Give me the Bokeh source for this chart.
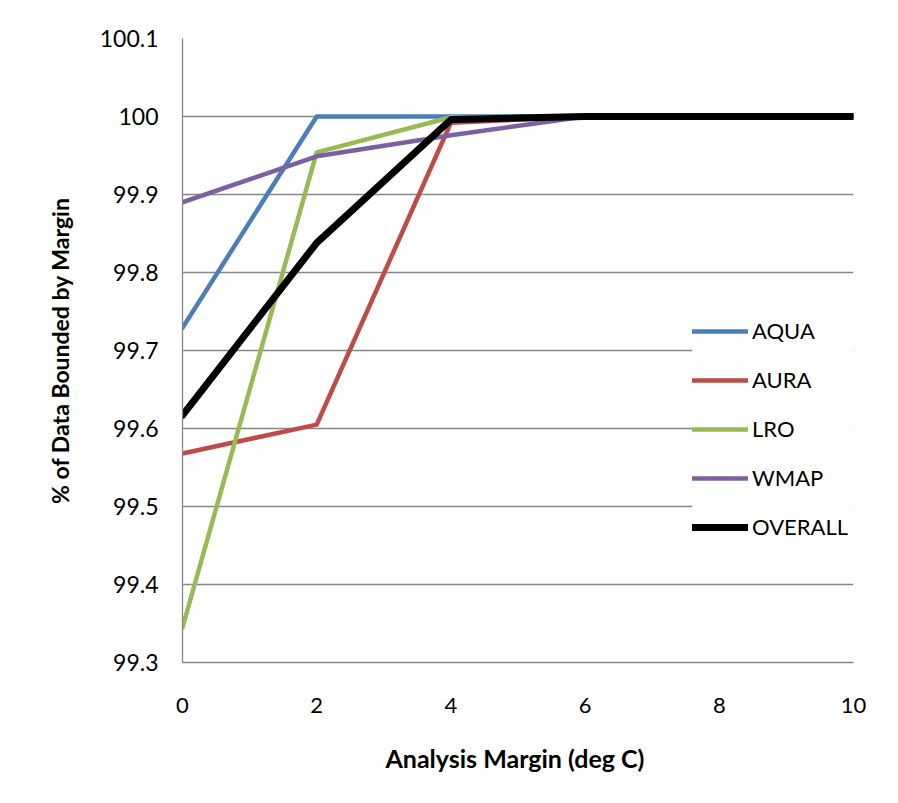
from bokeh.plotting import figure
from bokeh.models import FixedTicker, Legend, LegendItem, Range1d
from bokeh.embed import file_html
from bokeh.resources import INLINE

margins = [0, 2, 4, 6, 8, 10]
aqua = [99.729, 100.0, 100.0, 100.0, 100.0, 100.0]
aura = [99.568, 99.605, 99.992, 100.0, 100.0, 100.0]
lro = [99.345, 99.954, 99.999, 100.0, 100.0, 100.0]
wmap = [99.890, 99.949, 99.976, 100.0, 100.0, 100.0]
overall = [99.617, 99.838, 99.996, 100.0, 100.0, 100.0]

series_names = ["AQUA", "AURA", "LRO", "WMAP", "OVERALL"]
series_values = [aqua, aura, lro, wmap, overall]
series_colors = ["#4A7EBB", "#BE4B48", "#98B954", "#7D60A0", "#000000"]
series_widths = [4.5, 4.5, 4.5, 4.5, 7]

x_ticks = [0, 2, 4, 6, 8, 10]
y_ticks = [99.3, 99.4, 99.5, 99.6, 99.7, 99.8, 99.9, 100.0, 100.1]
y_tick_labels = ["99.3", "99.4", "99.5", "99.6", "99.7", "99.8", "99.9", "100", "100.1"]

FONT = "Lato"

p = figure(width=890, height=795, output_backend="svg", toolbar_location=None,
           x_range=Range1d(0, 10), y_range=Range1d(99.3, 100.1),
           min_border_left=182, min_border_right=37, min_border_top=38, min_border_bottom=133)
p.outline_line_color = None
p.background_fill_color = "white"
p.border_fill_color = "white"

p.xgrid.grid_line_color = None
p.ygrid.grid_line_color = "#868686"
p.ygrid.grid_line_width = 1.3
p.ygrid.ticker = FixedTicker(ticks=y_ticks)

p.xaxis.ticker = FixedTicker(ticks=x_ticks)
p.yaxis.ticker = FixedTicker(ticks=y_ticks)
p.yaxis.major_label_overrides = {t: l for t, l in zip(y_ticks, y_tick_labels)}

for ax in (p.xaxis[0], p.yaxis[0]):
    ax.axis_line_color = "#868686"
    ax.axis_line_width = 1.3
    ax.major_tick_in = 0
    ax.major_tick_out = 0
    ax.minor_tick_in = 0
    ax.minor_tick_out = 0
    ax.major_label_text_font = FONT
    ax.major_label_text_color = "black"
    ax.axis_label_text_font = FONT
    ax.axis_label_text_font_style = "bold"
    ax.axis_label_text_color = "black"

p.xaxis.major_label_text_font_size = "22px"
p.yaxis.major_label_text_font_size = "23px"
p.xaxis.axis_label_text_font_size = "25px"
p.yaxis.axis_label_text_font_size = "23px"

p.xaxis.axis_label = "Analysis Margin  (deg C)"
p.yaxis.axis_label = "% of Data Bounded by Margin"
p.xaxis.major_label_standoff = 35
p.xaxis.axis_label_standoff = 27
p.yaxis.major_label_standoff = 24
p.yaxis.axis_label_standoff = 23

items = []
for name, vals, col, w in zip(series_names, series_values, series_colors, series_widths):
    r = p.line(margins, vals, line_color=col, line_width=w, line_join="round", line_cap="round")
    items.append(LegendItem(label=name, renderers=[r]))

legend = Legend(items=items, location=(510, 122))
legend.background_fill_color = "white"
legend.background_fill_alpha = 1.0
legend.border_line_color = None
legend.label_text_font = FONT
legend.label_text_font_size = "22px"
legend.label_text_color = "black"
legend.glyph_width = 56
legend.glyph_height = 26
legend.label_height = 26
legend.label_width = 108
legend.label_standoff = 4
legend.spacing = 22
legend.padding = 10
legend.margin = 0
p.add_layout(legend, "center")

open("out.html", "w").write(file_html(p, INLINE))
